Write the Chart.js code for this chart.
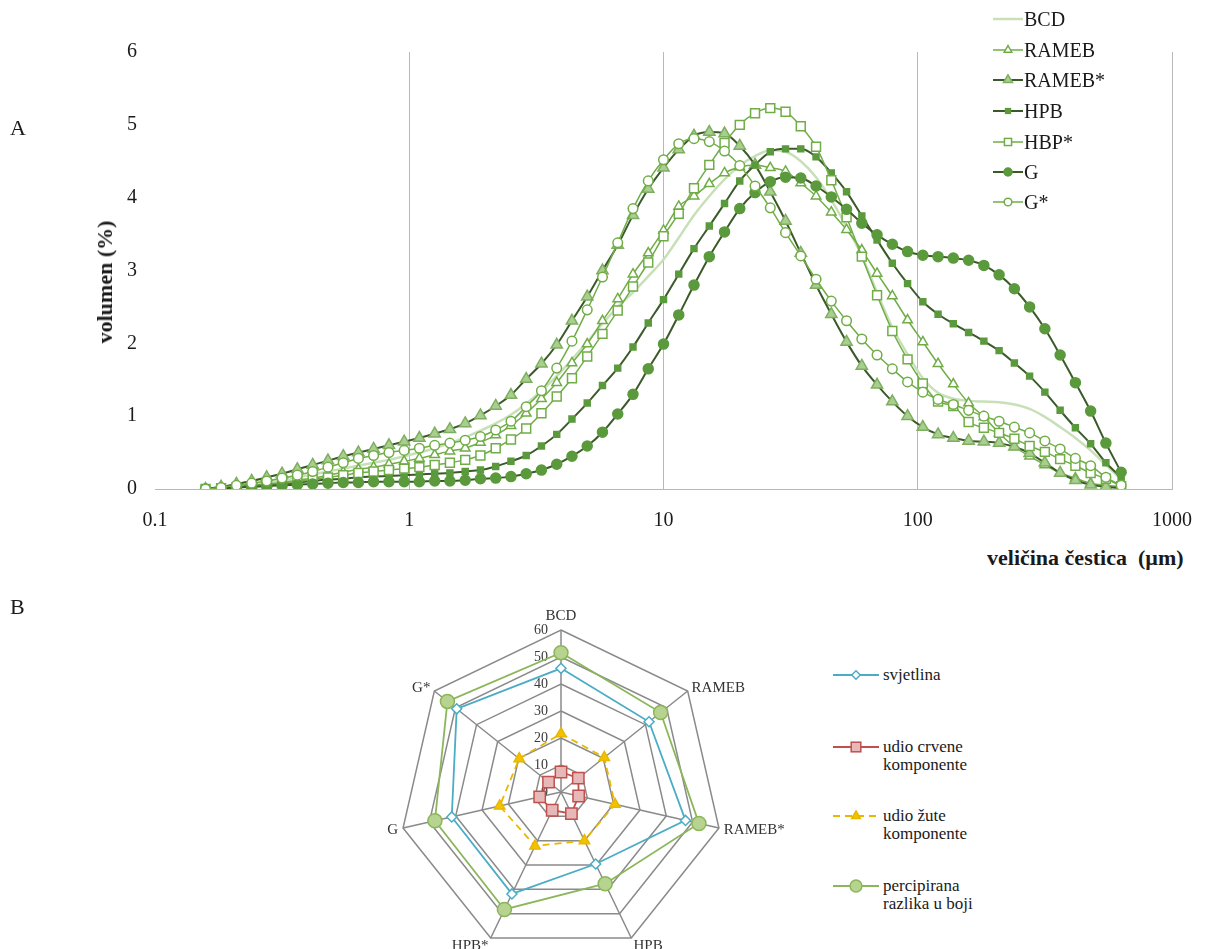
<!DOCTYPE html>
<html>
<head>
<meta charset="utf-8">
<script src="https://cdn.jsdelivr.net/npm/chart.js@4.4.1/dist/chart.umd.min.js"></script>
<style>
html, body { margin:0; padding:0; background:#fff; overflow:hidden; width:1212px; height:949px; }
body { position:relative; font-family:"Liberation Serif","Times New Roman",serif; color:#1a1a1a; }
#sizeChart { position:absolute; left:0; top:0; }
#colorChart { position:absolute; left:311px; top:598px; }
.panel { position:absolute; font-size:22px; line-height:22px; }
.ttl { position:absolute; font-size:22px; line-height:24px; font-weight:bold; white-space:pre; }
.leg { position:absolute; display:flex; align-items:center; font-size:20px; line-height:20px; height:20px; white-space:nowrap; }
.leg svg { display:block; margin-right:1px; }
.leg2 { position:absolute; display:flex; align-items:flex-start; font-size:17px; line-height:18px; }
.leg2 svg { display:block; margin-right:4px; }
</style>
</head>
<body>
<canvas id="sizeChart" width="1212" height="545"></canvas>
<canvas id="colorChart" width="500" height="370"></canvas>

<div class="panel" style="left:10px;top:117px;">A</div>
<div class="panel" style="left:10px;top:596px;">B</div>
<div class="ttl" style="left:105px;top:282px;transform:translate(-50%,-50%) rotate(-90deg);">volumen (%)</div>
<div class="ttl" style="left:987px;top:546px;">veličina čestica  (µm)</div>

<div id="legendA"></div>
<div id="legendB"></div>

<script>
// particle size classes (µm)
const sizes = [0.158, 0.182, 0.209, 0.240, 0.275, 0.316, 0.363, 0.417, 0.479, 0.550,
    0.631, 0.724, 0.832, 0.955, 1.096, 1.259, 1.445, 1.660, 1.905, 2.188,
    2.512, 2.884, 3.311, 3.802, 4.365, 5.012, 5.754, 6.607, 7.586, 8.710,
    10.00, 11.48, 13.18, 15.14, 17.38, 19.95, 22.91, 26.30, 30.20, 34.67,
    39.81, 45.71, 52.48, 60.26, 69.18, 79.43, 91.20, 104.7, 120.2, 138.0,
    158.5, 182.0, 208.9, 239.9, 275.4, 316.2, 363.1, 416.9, 478.6, 549.5, 631.0];

const bcd = [0, 0.02, 0.04, 0.06, 0.09, 0.12, 0.16, 0.20, 0.24, 0.28,
    0.32, 0.36, 0.40, 0.45, 0.50, 0.56, 0.63, 0.71, 0.80, 0.90,
    1.02, 1.17, 1.35, 1.55, 1.78, 2.02, 2.27, 2.50, 2.70, 2.92,
    3.15, 3.45, 3.76, 4.02, 4.25, 4.44, 4.57, 4.65, 4.63, 4.50,
    4.28, 3.97, 3.60, 3.20, 2.70, 2.22, 1.85, 1.52, 1.32, 1.24,
    1.21, 1.20, 1.19, 1.16, 1.10, 0.99, 0.85, 0.70, 0.53, 0.33, 0.13];
const rameb = [0, 0.02, 0.03, 0.05, 0.07, 0.09, 0.12, 0.15, 0.19, 0.23,
    0.27, 0.30, 0.34, 0.38, 0.42, 0.47, 0.52, 0.56, 0.64, 0.74,
    0.87, 1.04, 1.24, 1.46, 1.73, 1.99, 2.31, 2.61, 2.95, 3.24,
    3.55, 3.88, 4.02, 4.19, 4.34, 4.42, 4.45, 4.41, 4.36, 4.20,
    4.02, 3.80, 3.56, 3.28, 2.96, 2.65, 2.32, 2.02, 1.72, 1.44,
    1.18, 0.99, 0.77, 0.58, 0.45, 0.33, 0.22, 0.15, 0.08, 0.05, 0.03];
const ramebS = [0, 0.03, 0.07, 0.11, 0.16, 0.21, 0.27, 0.33, 0.39, 0.45,
    0.50, 0.55, 0.60, 0.65, 0.70, 0.76, 0.82, 0.90, 1.01, 1.14,
    1.29, 1.51, 1.72, 1.98, 2.31, 2.64, 3.00, 3.35, 3.76, 4.12,
    4.41, 4.66, 4.85, 4.90, 4.88, 4.71, 4.45, 4.08, 3.68, 3.24,
    2.80, 2.40, 2.02, 1.69, 1.43, 1.20, 1.00, 0.85, 0.75, 0.70,
    0.66, 0.65, 0.63, 0.58, 0.49, 0.36, 0.22, 0.12, 0.06, 0.03, 0.01];
const hpb = [0, 0.01, 0.02, 0.04, 0.05, 0.07, 0.09, 0.11, 0.13, 0.14,
    0.16, 0.17, 0.18, 0.19, 0.20, 0.21, 0.22, 0.24, 0.26, 0.31,
    0.38, 0.46, 0.59, 0.75, 0.96, 1.18, 1.42, 1.66, 1.95, 2.28,
    2.60, 2.95, 3.30, 3.61, 3.92, 4.23, 4.45, 4.63, 4.67, 4.67,
    4.56, 4.34, 4.08, 3.75, 3.42, 3.10, 2.82, 2.57, 2.40, 2.27,
    2.15, 2.03, 1.90, 1.73, 1.55, 1.33, 1.08, 0.84, 0.62, 0.36, 0.16];
const hbpS = [0, 0.01, 0.02, 0.04, 0.06, 0.08, 0.10, 0.13, 0.16, 0.19,
    0.22, 0.24, 0.26, 0.28, 0.30, 0.33, 0.36, 0.40, 0.46, 0.56,
    0.68, 0.83, 1.04, 1.27, 1.52, 1.82, 2.13, 2.45, 2.78, 3.11,
    3.47, 3.78, 4.13, 4.45, 4.75, 5.00, 5.16, 5.23, 5.18, 4.98,
    4.70, 4.24, 3.73, 3.19, 2.66, 2.17, 1.78, 1.45, 1.20, 1.14,
    0.92, 0.84, 0.77, 0.69, 0.59, 0.51, 0.41, 0.32, 0.22, 0.14, 0.04];
const g = [0, 0.01, 0.02, 0.03, 0.04, 0.05, 0.06, 0.07, 0.08, 0.09,
    0.09, 0.10, 0.10, 0.10, 0.10, 0.11, 0.11, 0.12, 0.14, 0.15,
    0.17, 0.21, 0.26, 0.34, 0.45, 0.59, 0.78, 1.03, 1.30, 1.65,
    1.99, 2.39, 2.80, 3.19, 3.53, 3.85, 4.07, 4.22, 4.28, 4.27,
    4.16, 4.01, 3.84, 3.65, 3.49, 3.36, 3.26, 3.21, 3.19, 3.17,
    3.14, 3.07, 2.94, 2.75, 2.50, 2.20, 1.84, 1.46, 1.07, 0.63, 0.23];
const gS = [0, 0.02, 0.05, 0.08, 0.11, 0.15, 0.19, 0.24, 0.30, 0.36,
    0.42, 0.46, 0.50, 0.53, 0.56, 0.60, 0.63, 0.67, 0.72, 0.81,
    0.93, 1.13, 1.35, 1.66, 2.03, 2.46, 2.91, 3.38, 3.85, 4.23,
    4.52, 4.74, 4.81, 4.77, 4.64, 4.44, 4.16, 3.86, 3.52, 3.20,
    2.88, 2.58, 2.31, 2.06, 1.84, 1.65, 1.47, 1.33, 1.23, 1.16,
    1.08, 1.00, 0.93, 0.85, 0.77, 0.66, 0.55, 0.42, 0.32, 0.16, 0.05];

const xTicks = [0.1, 1, 10, 100, 1000];
const xTickLabels = ['0.1', '1', '10', '100', '1000'];
const yTicks = [0, 1, 2, 3, 4, 5, 6];

// radar (B)
const radarCategories = ['BCD', 'RAMEB', 'RAMEB*', 'HPB', 'HPB*', 'G', 'G*'];
const svjetlina = [45.8, 41.7, 47.3, 29.6, 41.9, 41.5, 49.4];
const crvena = [7.4, 8.2, 6.7, 8.9, 7.5, 8.1, 5.9];
const zuta = [21.6, 20.5, 20.5, 20.0, 22.2, 23.3, 19.8];
const razlika = [51.6, 47.2, 52.4, 37.7, 48.3, 47.9, 53.8];
const radarTicks = [0, 10, 20, 30, 40, 50, 60];

const DARK = '#3b5a2a';
const LIGHT = '#70ad47';
const SERIF = '"Liberation Serif", "Times New Roman", serif';

function pts(vals) {
    return sizes.map((s, i) => ({ x: s, y: vals[i] }));
}

const sizeSeries = [
    { label: 'BCD', data: bcd, line: '#c8e0b8', width: 2.5, style: false, r: 0, fill: '#fff', edge: '#c8e0b8' },
    { label: 'RAMEB', data: rameb, line: LIGHT, width: 1.5, style: 'triangle', r: 5.5, fill: '#fff', edge: LIGHT },
    { label: 'RAMEB*', data: ramebS, line: DARK, width: 2, style: 'triangle', r: 6.5, fill: '#a9cf8f', edge: '#7fae62' },
    { label: 'HPB', data: hpb, line: DARK, width: 2, style: 'rect', r: 4.2, fill: '#5b9a3c', edge: '#5b9a3c' },
    { label: 'HBP*', data: hbpS, line: LIGHT, width: 1.5, style: 'rect', r: 6.3, fill: '#fff', edge: LIGHT },
    { label: 'G', data: g, line: DARK, width: 2, style: 'circle', r: 5, fill: '#5b9a3c', edge: '#5b9a3c' },
    { label: 'G*', data: gS, line: LIGHT, width: 1.5, style: 'circle', r: 4.8, fill: '#fff', edge: LIGHT }
];

const sizeChart = new Chart(document.getElementById('sizeChart'), {
    type: 'line',
    data: {
        datasets: sizeSeries.map((s, i) => ({
            label: s.label,
            data: pts(s.data),
            borderColor: s.line,
            borderWidth: s.width,
            backgroundColor: s.fill,
            pointStyle: s.style,
            pointRadius: s.r,
            pointBackgroundColor: s.fill,
            pointBorderColor: s.edge,
            pointBorderWidth: 1.5,
            cubicInterpolationMode: 'monotone',
            fill: false,
            order: sizeSeries.length - i
        }))
    },
    options: {
        responsive: false,
        animation: false,
        layout: { padding: { left: 0, right: 39, top: 52, bottom: 0 } },
        plugins: { legend: { display: false }, tooltip: { enabled: false } },
        scales: {
            x: {
                type: 'logarithmic',
                min: 0.1,
                max: 1000,
                afterBuildTicks: (axis) => { axis.ticks = xTicks.map(v => ({ value: v })); },
                afterFit: (axis) => { axis.height = 56; },
                ticks: {
                    autoSkip: false,
                    maxRotation: 0,
                    padding: 20,
                    color: '#1a1a1a',
                    font: { family: SERIF, size: 20 },
                    callback: (v) => xTickLabels[xTicks.indexOf(v)]
                },
                grid: {
                    drawTicks: false,
                    lineWidth: 1,
                    color: (ctx) => (ctx.tick && ctx.tick.value === 0.1) ? 'rgba(0,0,0,0)' : '#b8b8b8'
                },
                border: { display: true, color: '#b8b8b8', width: 1 }
            },
            y: {
                min: 0,
                max: 6,
                afterBuildTicks: (axis) => { axis.ticks = yTicks.map(v => ({ value: v })); },
                afterFit: (axis) => { axis.width = 155; },
                ticks: {
                    padding: 18,
                    color: '#1a1a1a',
                    font: { family: SERIF, size: 20 }
                },
                grid: { display: false, drawTicks: false },
                border: { display: false }
            }
        }
    }
});

// tick labels of the radar, drawn left of the vertical axis
const radarTickLabels = {
    id: 'radarTickLabels',
    beforeDatasetsDraw(chart) {
        const r = chart.scales.r;
        const ctx = chart.ctx;
        ctx.save();
        ctx.font = '14px ' + SERIF;
        ctx.fillStyle = '#3a3a3a';
        ctx.textAlign = 'right';
        ctx.textBaseline = 'middle';
        radarTicks.forEach(v => {
            ctx.fillText(String(v), r.xCenter - 13, r.yCenter - r.getDistanceFromCenterForValue(v));
        });
        ctx.restore();
    }
};

// category labels sit level with their corner, like the original
const labelNudge = [0, 9, -8, -5, -5, -8, 9];
const radarLabelNudge = {
    id: 'radarLabelNudge',
    afterLayout(chart) {
        const items = chart.scales.r._pointLabelItems || [];
        items.forEach((it, i) => {
            const d = labelNudge[i] || 0;
            it.y += d; it.top += d; it.bottom += d;
        });
    }
};

const radarSeries = [
    { label: 'svjetlina', data: svjetlina, line: '#4bacc6', dash: [], style: 'rectRot', r: 5, fill: '#fff' },
    { label: 'udio crvene komponente', data: crvena, line: '#c0504d', dash: [], style: 'rect', r: 8, fill: '#e6b9b8' },
    { label: 'udio žute komponente', data: zuta, line: '#e8b800', dash: [7, 5], style: 'triangle', r: 6, fill: '#f2c200' },
    { label: 'percipirana razlika u boji', data: razlika, line: '#8cb65a', dash: [], style: 'circle', r: 7, fill: '#b6d38f' }
];

const colorChart = new Chart(document.getElementById('colorChart'), {
    type: 'radar',
    data: {
        labels: radarCategories,
        datasets: radarSeries.map(s => ({
            label: s.label,
            data: s.data,
            borderColor: s.line,
            borderWidth: 1.8,
            borderDash: s.dash,
            backgroundColor: 'rgba(0,0,0,0)',
            fill: false,
            pointStyle: s.style,
            pointRadius: s.r,
            pointBackgroundColor: s.fill,
            pointBorderColor: s.line,
            pointBorderWidth: 1.5
        }))
    },
    options: {
        responsive: false,
        animation: false,
        plugins: { legend: { display: false }, tooltip: { enabled: false } },
        scales: {
            r: {
                min: 0,
                max: 60,
                ticks: { display: false, stepSize: 10 },
                grid: { color: '#8a8a8a', lineWidth: 1.5 },
                angleLines: { color: '#8a8a8a', lineWidth: 1.5 },
                pointLabels: {
                    color: '#333',
                    padding: 5,
                    font: { family: SERIF, size: 15 }
                }
            }
        }
    },
    plugins: [radarTickLabels, radarLabelNudge]
});

// legends
function markerSvg(w, h, line, width, dash, style, r, fill, edge) {
    const cy = h / 2, cx = w / 2;
    let m = '';
    if (style === 'circle') m = `<circle cx="${cx}" cy="${cy}" r="${r}" fill="${fill}" stroke="${edge}" stroke-width="1.5"/>`;
    if (style === 'rect') m = `<rect x="${cx - r * 0.707}" y="${cy - r * 0.707}" width="${r * 1.414}" height="${r * 1.414}" fill="${fill}" stroke="${edge}" stroke-width="1.5"/>`;
    if (style === 'rectRot') m = `<polygon points="${cx - r},${cy} ${cx},${cy - r} ${cx + r},${cy} ${cx},${cy + r}" fill="${fill}" stroke="${edge}" stroke-width="1.5"/>`;
    if (style === 'triangle') m = `<polygon points="${cx},${cy - r} ${cx + r * 0.866},${cy + r * 0.5} ${cx - r * 0.866},${cy + r * 0.5}" fill="${fill}" stroke="${edge}" stroke-width="1.5"/>`;
    const da = dash.length ? `stroke-dasharray="${dash.join(' ')}"` : '';
    return `<svg width="${w}" height="${h}"><line x1="0" y1="${cy}" x2="${w}" y2="${cy}" stroke="${line}" stroke-width="${width}" ${da}/>${m}</svg>`;
}

const legendAY = [19, 50, 80, 111, 142, 172, 202];
document.getElementById('legendA').innerHTML = sizeSeries.map((s, i) =>
    `<div class="leg" style="left:993px;top:${legendAY[i] - 10}px;">` +
    markerSvg(30, 20, s.line, s.width, [], s.style, s.r * 0.8, s.fill, s.edge) +
    `<span>${s.label}</span></div>`).join('');

const legendBY = [666, 738, 807, 877];
const legendBText = ['svjetlina', 'udio crvene<br>komponente', 'udio žute<br>komponente', 'percipirana<br>razlika u boji'];
document.getElementById('legendB').innerHTML = radarSeries.map((s, i) =>
    `<div class="leg2" style="left:833px;top:${legendBY[i]}px;">` +
    markerSvg(46, 18, s.line, 1.8, s.dash, s.style, s.r * 0.85, s.fill, s.line) +
    `<span>${legendBText[i]}</span></div>`).join('');
</script>
</body>
</html>
